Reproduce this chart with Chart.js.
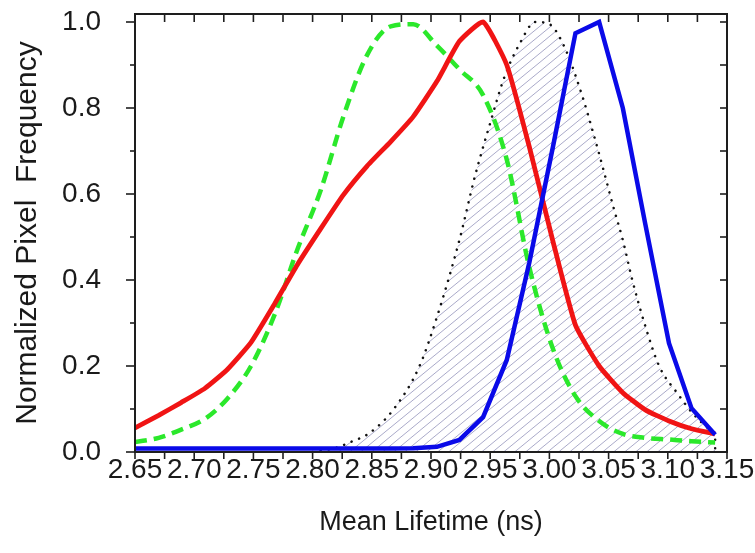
<!DOCTYPE html>
<html>
<head>
<meta charset="utf-8">
<script src="https://cdn.jsdelivr.net/npm/chart.js@4.4.1/dist/chart.umd.min.js"></script>
<style>
  html, body { margin: 0; padding: 0; background: #fff; }
  canvas { display: block; }
</style>
</head>
<body>
<canvas id="lifetime_chart" width="755" height="553"></canvas>
<script>
// histogram bin centres (ns)
const binX = [2.650, 2.670, 2.689, 2.709, 2.728, 2.748, 2.768, 2.787, 2.807, 2.826,
              2.846, 2.866, 2.885, 2.905, 2.924, 2.944, 2.964, 2.983, 3.003, 3.022,
              3.042, 3.062, 3.081, 3.101, 3.120, 3.140];

const redFreq = [0.056, 0.085, 0.115, 0.148, 0.192, 0.255, 0.345, 0.435, 0.520, 0.598,
                 0.665, 0.722, 0.780, 0.862, 0.955, 1.000, 0.900, 0.710, 0.490, 0.295,
                 0.200, 0.138, 0.098, 0.072, 0.054, 0.042];

const greenFreq = [0.023, 0.033, 0.052, 0.077, 0.124, 0.200, 0.320, 0.470, 0.610, 0.780,
                   0.923, 0.990, 0.995, 0.945, 0.890, 0.830, 0.680, 0.430, 0.240, 0.130,
                   0.072, 0.042, 0.033, 0.029, 0.025, 0.022];

const blueFreq = [0.008, 0.008, 0.008, 0.008, 0.008, 0.008, 0.008, 0.008, 0.008, 0.008,
                  0.008, 0.008, 0.009, 0.012, 0.028, 0.081, 0.214, 0.440, 0.710, 0.974,
                  1.000, 0.800, 0.530, 0.253, 0.102, 0.040];

// reference distribution (dotted outline, hatched)
const refX = [2.800, 2.820, 2.832, 2.848, 2.868, 2.890, 2.905, 2.924, 2.937, 2.950,
              2.962, 2.975, 2.988, 3.000, 3.013, 3.028, 3.037, 3.045, 3.054, 3.062,
              3.070, 3.082, 3.093, 3.108, 3.121, 3.136, 3.140, 3.140];
const refFreq = [0.000, 0.010, 0.023, 0.044, 0.098, 0.198, 0.314, 0.493, 0.640, 0.765,
                 0.872, 0.950, 1.000, 0.995, 0.940, 0.826, 0.742, 0.663, 0.570, 0.493,
                 0.400, 0.284, 0.198, 0.137, 0.090, 0.050, 0.040, 0.000];

const xTicks = [2.65, 2.70, 2.75, 2.80, 2.85, 2.90, 2.95, 3.00, 3.05, 3.10, 3.15];
const yTicks = [0.0, 0.2, 0.4, 0.6, 0.8, 1.0];

function toPoints(xs, ys) {
    return xs.map((x, i) => ({ x: x, y: ys[i] }));
}

// diagonal hatch used under the dotted curve
function makeHatch() {
    const w = 11, h = 9;
    const c = document.createElement('canvas');
    c.width = w;
    c.height = h;
    const g = c.getContext('2d');
    g.strokeStyle = 'rgba(125, 125, 172, 0.65)';
    g.lineWidth = 1;
    for (let k = -1; k <= 1; k++) {
        g.beginPath();
        g.moveTo(-1, h + k * h + h / w);
        g.lineTo(w + 1, k * h - h / w);
        g.stroke();
    }
    return g.createPattern(c, 'repeat');
}

// box frame with ticks: outward on left/bottom, inward on top/right
const frameTicks = {
    id: 'frameTicks',
    afterDraw(chart) {
        const { ctx, chartArea: a, scales } = chart;
        const x = scales.x, y = scales.y;
        ctx.save();
        ctx.strokeStyle = '#1e1e1e';
        ctx.lineWidth = 1.6;
        const line = (x1, y1, x2, y2) => {
            ctx.beginPath();
            ctx.moveTo(x1, y1);
            ctx.lineTo(x2, y2);
            ctx.stroke();
        };
        for (let i = 0; i < xTicks.length; i++) {
            const px = x.getPixelForValue(xTicks[i]);
            line(px, a.bottom, px, a.bottom + 7);
            line(px, a.top, px, a.top + 8);
            if (i < xTicks.length - 1) {
                const mx = x.getPixelForValue((xTicks[i] + xTicks[i + 1]) / 2);
                line(mx, a.bottom, mx, a.bottom + 7);
                line(mx, a.top, mx, a.top + 8);
            }
        }
        for (let i = 0; i < yTicks.length; i++) {
            const py = y.getPixelForValue(yTicks[i]);
            line(a.left - 9, py, a.left, py);
            line(a.right - 7, py, a.right, py);
            if (i < yTicks.length - 1) {
                const my = y.getPixelForValue((yTicks[i] + yTicks[i + 1]) / 2);
                line(a.left - 5, my, a.left, my);
                line(a.right - 7, my, a.right, my);
            }
        }
        ctx.lineWidth = 2;
        ctx.strokeRect(a.left, a.top, a.right - a.left, a.bottom - a.top);
        ctx.restore();
    }
};

document.addEventListener('DOMContentLoaded', function () {
    const ctx = document.getElementById('lifetime_chart').getContext('2d');
    const font = 'Liberation Sans, Arial, sans-serif';

    new Chart(ctx, {
        type: 'line',
        data: {
            datasets: [
                {
                    label: 'Blue',
                    data: toPoints(binX, blueFreq),
                    borderColor: '#0a0ae8',
                    borderWidth: 4.5,
                    pointRadius: 0,
                    tension: 0,
                    fill: false
                },
                {
                    label: 'Red',
                    data: toPoints(binX, redFreq),
                    borderColor: '#f01414',
                    borderWidth: 4.8,
                    pointRadius: 0,
                    tension: 0.15,
                    fill: false
                },
                {
                    label: 'Green',
                    data: toPoints(binX, greenFreq),
                    borderColor: '#2be82b',
                    borderWidth: 4.5,
                    borderDash: [12, 7],
                    pointRadius: 0,
                    cubicInterpolationMode: 'monotone',
                    fill: false
                },
                {
                    label: 'Reference',
                    data: toPoints(refX, refFreq),
                    borderColor: '#111',
                    borderWidth: 2.5,
                    borderDash: [0.1, 8],
                    borderCapStyle: 'round',
                    backgroundColor: makeHatch(),
                    pointRadius: 0,
                    cubicInterpolationMode: 'monotone',
                    fill: 'origin'
                }
            ]
        },
        options: {
            responsive: false,
            animation: false,
            layout: { padding: { left: 0, right: 28, top: 14, bottom: 0 } },
            plugins: {
                legend: { display: false },
                tooltip: { enabled: false }
            },
            scales: {
                x: {
                    type: 'linear',
                    min: 2.65,
                    max: 3.15,
                    afterFit: s => {
                        s.height = 101;
                        s.paddingLeft = 0;
                        s.paddingRight = 0;
                    },
                    afterBuildTicks: s => { s.ticks = xTicks.map(v => ({ value: v })); },
                    grid: { display: false, drawTicks: false },
                    border: { display: false },
                    ticks: {
                        padding: 4,
                        color: '#1a1a1a',
                        font: { family: font, size: 28, lineHeight: 1 },
                        callback: v => v.toFixed(2),
                        maxRotation: 0,
                        autoSkip: false
                    },
                    title: {
                        display: true,
                        text: 'Mean Lifetime (ns)',
                        color: '#1a1a1a',
                        font: { family: font, size: 27 },
                        padding: { top: 0, bottom: 14 }
                    }
                },
                y: {
                    min: 0,
                    max: 1.0186,
                    // keep the label gap from pushing the plot area down
                    afterFit: s => {
                        s.width = 135;
                        s.paddingTop = 0;
                        s.paddingBottom = 0;
                    },
                    afterBuildTicks: s => { s.ticks = yTicks.map(v => ({ value: v })); },
                    grid: { display: false, drawTicks: false },
                    border: { display: false },
                    ticks: {
                        padding: 34,
                        color: '#1a1a1a',
                        font: { family: font, size: 28, lineHeight: 1 },
                        callback: v => v.toFixed(1)
                    },
                    title: {
                        display: true,
                        text: 'Normalized Pixel  Frequency',
                        color: '#1a1a1a',
                        font: { family: font, size: 30 },
                        padding: { top: 10, bottom: 0 }
                    }
                }
            }
        },
        plugins: [frameTicks]
    });
});
</script>
</body>
</html>
